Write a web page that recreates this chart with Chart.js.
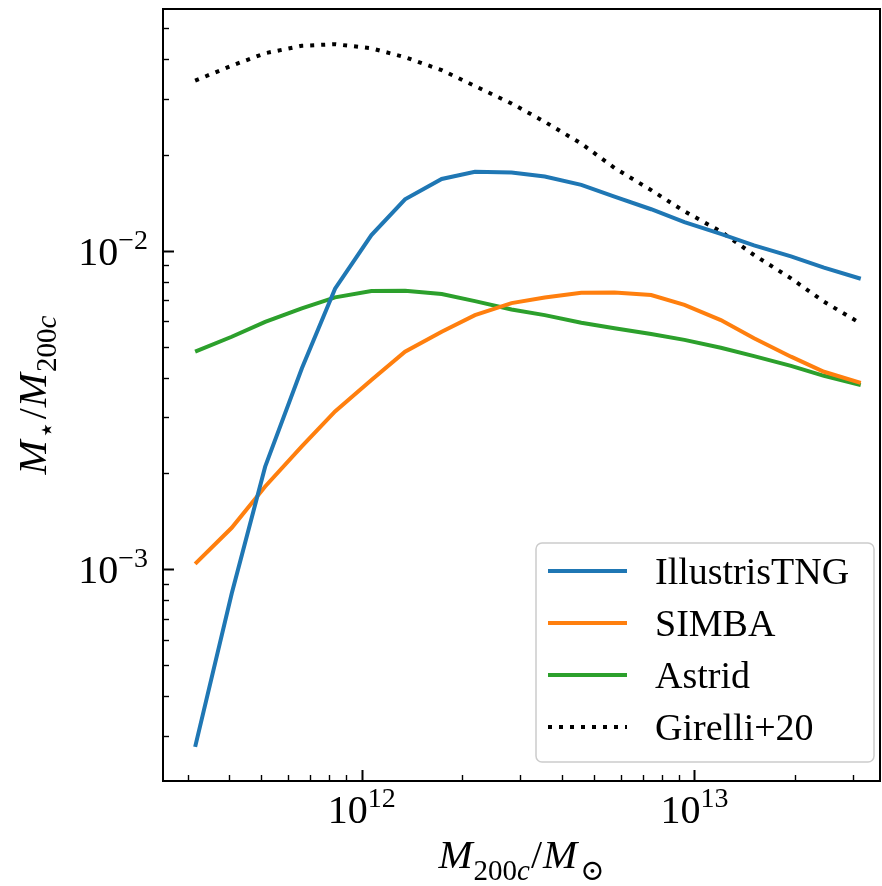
<!DOCTYPE html>
<html>
<head>
<meta charset="utf-8">
<script src="https://cdn.jsdelivr.net/npm/chart.js@4"></script>
<style>
  body { margin: 0; background: #fff; }
  canvas { display: block; }
</style>
</head>
<body>
<canvas id="smhm" width="882" height="886"></canvas>
<script>
// halo mass bins (M_sun)
const masses = [3.16e11, 4.07e11, 5.13e11, 6.61e11, 8.32e11, 1.07e12, 1.35e12, 1.74e12, 2.19e12, 2.82e12,
                3.55e12, 4.57e12, 5.75e12, 7.41e12, 9.33e12, 1.20e13, 1.51e13, 1.95e13, 2.45e13, 3.16e13];

// stellar-to-halo mass ratio per model
const tng     = [2.77e-4, 8.4e-4, 2.1e-3, 4.27e-3, 7.6e-3, 1.12e-2, 1.45e-2, 1.68e-2, 1.77e-2, 1.76e-2,
                 1.71e-2, 1.61e-2, 1.48e-2, 1.35e-2, 1.23e-2, 1.13e-2, 1.04e-2, 9.6e-3, 8.85e-3, 8.17e-3];
const simba   = [1.04e-3, 1.35e-3, 1.82e-3, 2.43e-3, 3.13e-3, 3.93e-3, 4.82e-3, 5.57e-3, 6.28e-3, 6.85e-3,
                 7.13e-3, 7.38e-3, 7.40e-3, 7.26e-3, 6.76e-3, 6.06e-3, 5.31e-3, 4.65e-3, 4.17e-3, 3.85e-3];
const astrid  = [4.82e-3, 5.37e-3, 5.98e-3, 6.59e-3, 7.14e-3, 7.48e-3, 7.49e-3, 7.31e-3, 6.95e-3, 6.54e-3,
                 6.28e-3, 5.94e-3, 5.71e-3, 5.48e-3, 5.25e-3, 4.96e-3, 4.67e-3, 4.35e-3, 4.05e-3, 3.79e-3];
const girelli = [3.42e-2, 3.81e-2, 4.17e-2, 4.40e-2, 4.45e-2, 4.32e-2, 4.05e-2, 3.69e-2, 3.29e-2, 2.90e-2,
                 2.54e-2, 2.17e-2, 1.82e-2, 1.55e-2, 1.33e-2, 1.15e-2, 9.7e-3, 8.19e-3, 6.92e-3, 5.91e-3];

const names  = ['IllustrisTNG', 'SIMBA', 'Astrid', 'Girelli+20'];
const colors = ['#1f77b4', '#ff7f0e', '#2ca02c', '#000000'];

// major tick labels (10^exp)
const xMajor = [1e12, 1e13];
const xExp   = ['12', '13'];
const yMajor = [1e-2, 1e-3];
const yExp   = ['\u22122', '\u22123'];

const SERIF = '"Liberation Serif", "DejaVu Serif", serif';

function pts(ys) {
  return ys.map((y, i) => ({ x: masses[i], y: y }));
}

function runsWidth(ctx, runs) {
  let w = 0;
  runs.forEach(r => { ctx.font = r.font; w += ctx.measureText(r.text).width + (r.gap || 0); });
  return w;
}
function drawRuns(ctx, runs, x, y) {
  runs.forEach(r => {
    ctx.font = r.font;
    ctx.fillText(r.text, x, y + (r.dy || 0));
    x += ctx.measureText(r.text).width + (r.gap || 0);
  });
}
function powRuns(exp) {
  return [
    { text: '10', font: '40px ' + SERIF },
    { text: exp, font: '28px ' + SERIF, dy: -16 }
  ];
}

const axesPlugin = {
  id: 'axesDeco',
  afterDraw(chart) {
    const ctx = chart.ctx;
    const a = chart.chartArea;
    const xs = chart.scales.x, ys = chart.scales.y;
    ctx.save();
    ctx.strokeStyle = '#000';
    ctx.fillStyle = '#000';

    // inward ticks
    for (let e = 11; e <= 13; e++) {
      for (let m = 1; m <= 9; m++) {
        const v = m * Math.pow(10, e);
        if (v < xs.min || v > xs.max) continue;
        const px = Math.round(xs.getPixelForValue(v)) + 0.5;
        ctx.lineWidth = m === 1 ? 2 : 1.4;
        ctx.beginPath();
        ctx.moveTo(px, a.bottom);
        ctx.lineTo(px, a.bottom - (m === 1 ? 11 : 6));
        ctx.stroke();
      }
    }
    for (let e = -4; e <= -2; e++) {
      for (let m = 1; m <= 9; m++) {
        const v = m * Math.pow(10, e);
        if (v < ys.min || v > ys.max) continue;
        const py = Math.round(ys.getPixelForValue(v)) + 0.5;
        ctx.lineWidth = m === 1 ? 2 : 1.4;
        ctx.beginPath();
        ctx.moveTo(a.left, py);
        ctx.lineTo(a.left + (m === 1 ? 11 : 6), py);
        ctx.stroke();
      }
    }

    // frame
    ctx.lineWidth = 2;
    ctx.strokeRect(a.left, a.top, a.right - a.left, a.bottom - a.top);

    // tick labels
    ctx.textBaseline = 'alphabetic';
    ctx.textAlign = 'left';
    xMajor.forEach((v, i) => {
      const runs = powRuns(xExp[i]);
      const w = runsWidth(ctx, runs);
      drawRuns(ctx, runs, xs.getPixelForValue(v) - w / 2, a.bottom + 42);
    });
    yMajor.forEach((v, i) => {
      const runs = powRuns(yExp[i]);
      const w = runsWidth(ctx, runs);
      drawRuns(ctx, runs, a.left - 15 - w, ys.getPixelForValue(v) + 14);
    });

    // axis titles
    const it = 'italic 41px ' + SERIF, rm = '40px ' + SERIF;
    const sit = 'italic 29px ' + SERIF, srm = '29px ' + SERIF;
    const xTitle = [
      { text: 'M', font: it, gap: 1 },
      { text: '200', font: srm, dy: 12 },
      { text: 'c', font: sit, dy: 12, gap: 1 },
      { text: '/', font: rm, gap: 1 },
      { text: 'M', font: it, gap: 3 },
      { text: '\u2299', font: srm, dy: 12 }
    ];
    const xw = runsWidth(ctx, xTitle);
    drawRuns(ctx, xTitle, (a.left + a.right) / 2 - xw / 2, 868);

    const yTitle = [
      { text: 'M', font: it, gap: 1 },
      { text: '\u22c6', font: srm, dy: 10, gap: 2 },
      { text: '/', font: rm, gap: 1 },
      { text: 'M', font: it, gap: 1 },
      { text: '200', font: srm, dy: 10 },
      { text: 'c', font: sit, dy: 10 }
    ];
    const yw = runsWidth(ctx, yTitle);
    ctx.save();
    ctx.translate(46, (a.top + a.bottom) / 2);
    ctx.rotate(-Math.PI / 2);
    drawRuns(ctx, yTitle, -yw / 2, 0);
    ctx.restore();

    // legend
    const bx = a.right - 344, by = a.bottom - 238, bw = 338, bh = 219;
    ctx.beginPath();
    ctx.roundRect(bx, by, bw, bh, 6);
    ctx.fillStyle = 'rgba(255,255,255,0.8)';
    ctx.fill();
    ctx.strokeStyle = '#cccccc';
    ctx.lineWidth = 1.5;
    ctx.stroke();
    chart.data.datasets.forEach((ds, i) => {
      const ry = by + 28 + i * 52;
      ctx.strokeStyle = ds.borderColor;
      ctx.lineWidth = 4;
      ctx.setLineDash(ds.borderDash || []);
      ctx.beginPath();
      ctx.moveTo(bx + 12, ry);
      ctx.lineTo(bx + 91, ry);
      ctx.stroke();
      ctx.setLineDash([]);
      ctx.fillStyle = '#000';
      ctx.font = '38px ' + SERIF;
      ctx.fillText(ds.label, bx + 119, ry + 13);
    });

    ctx.restore();
  }
};

new Chart(document.getElementById('smhm'), {
  type: 'line',
  data: {
    datasets: [
      { label: names[0], data: pts(tng), borderColor: colors[0] },
      { label: names[1], data: pts(simba), borderColor: colors[1] },
      { label: names[2], data: pts(astrid), borderColor: colors[2] },
      { label: names[3], data: pts(girelli), borderColor: colors[3], borderDash: [4, 7], borderCapStyle: 'butt' }
    ]
  },
  options: {
    responsive: false,
    animation: false,
    devicePixelRatio: 1,
    layout: { padding: { top: 9, right: 2, left: 0, bottom: 0 } },
    elements: {
      line: { borderWidth: 4, tension: 0, fill: false },
      point: { radius: 0 }
    },
    plugins: { legend: { display: false }, tooltip: { enabled: false } },
    scales: {
      x: {
        type: 'logarithmic',
        min: 2.53e11, max: 3.61e13,
        ticks: { display: false },
        grid: { display: false },
        border: { display: false },
        afterFit: s => { s.height = 105; }
      },
      y: {
        type: 'logarithmic',
        min: 2.165e-4, max: 5.74e-2,
        ticks: { display: false },
        grid: { display: false },
        border: { display: false },
        afterFit: s => { s.width = 163; }
      }
    }
  },
  plugins: [axesPlugin]
});
</script>
</body>
</html>
